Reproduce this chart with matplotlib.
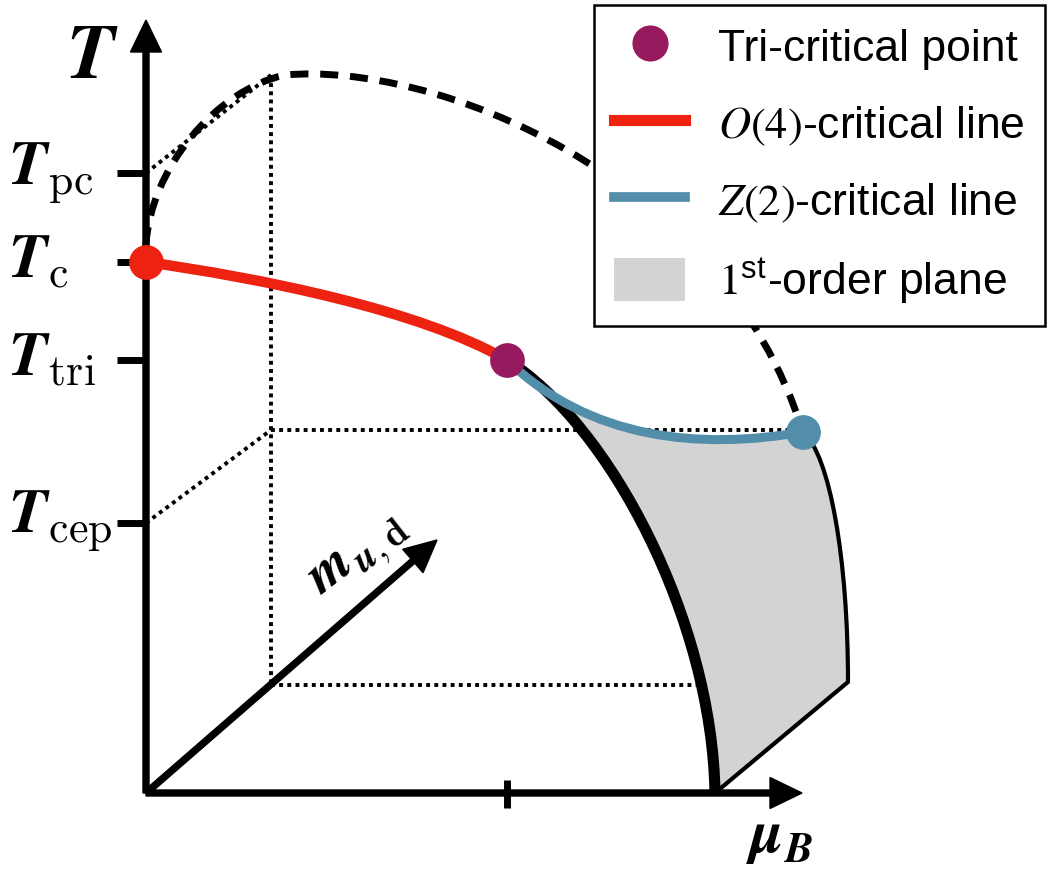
import matplotlib
matplotlib.use("Agg")
import matplotlib.pyplot as plt
from matplotlib.path import Path
from matplotlib.patches import PathPatch, Patch
from matplotlib.lines import Line2D

plt.rcParams['mathtext.fontset'] = 'stix'
plt.rcParams['font.family'] = ['Liberation Sans', 'DejaVu Sans']

# schematic geometry (picture pixels, y downwards)
origin = (146, 793)
t_tip_y = 20
mu_tip_x = 802
m_tip = (437, 540)

t_ticks_y = [173, 262, 360, 523]
t_label_base = [185, 277, 375, 533]
t_tick_labels = [r'$\mathbfit{T}_{\mathrm{pc}}$', r'$\mathbfit{T}_{\mathrm{c}}$',
                 r'$\mathbfit{T}_{\mathrm{tri}}$', r'$\mathbfit{T}_{\mathrm{cep}}$']
mu_tick_x = 507

# cubic bezier control points
o4_x = [146, 260, 420, 507]
o4_y = [262, 278, 310, 360]
z2_x = [507, 590, 700, 803]
z2_y = [360, 440, 450, 432]
first_x = [507, 610, 712, 715]
first_y = [360, 425, 620, 793]
edge_x = [803, 830, 848, 848]
edge_y = [432, 455, 560, 682]
corner = (715, 793)
dash_x = [146, 150, 215, 285, 430, 720, 803]
dash_y = [245, 170, 90, 75, 62, 170, 432]

# dotted helper lines: (x0, y0, x1, y1)
dotted_segs = [(146, 173, 271, 75), (271, 75, 271, 685), (271, 685, 705, 685),
               (146, 523, 271, 430), (271, 430, 803, 430)]

tc_pt = (146, 262)
tri_pt = (507, 360)
z2_pt = (803, 432)

red = '#EE2211'
purple = '#971A5E'
blue = '#528EAA'
grey = '#D3D3D3'


def bez(xs, ys):
    verts = list(zip(xs, ys))
    codes = [Path.MOVETO] + [Path.CURVE4] * (len(verts) - 1)
    return Path(verts, codes)


fig = plt.figure(figsize=(10.5, 8.69), dpi=100)
ax = fig.add_axes([0, 0, 1, 1])
ax.set_xlim(0, 1050)
ax.set_ylim(869, 0)
ax.axis('off')

# dotted lines
for x0, y0, x1, y1 in dotted_segs:
    ax.plot([x0, x1], [y0, y1], color='k', lw=2.8, ls=(0, (1, 1.1)), zorder=1)

# first order plane
verts = list(zip(z2_x, z2_y)) + list(zip(edge_x[1:], edge_y[1:])) + [corner] \
    + list(zip(first_x[::-1][1:], first_y[::-1][1:])) + [(0, 0)]
codes = [Path.MOVETO] + [Path.CURVE4] * 3 + [Path.CURVE4] * 3 + [Path.LINETO] \
    + [Path.CURVE4] * 3 + [Path.CLOSEPOLY]
ax.add_patch(PathPatch(Path(verts, codes), facecolor=grey, edgecolor='none', zorder=2))

# right edge
ax.add_patch(PathPatch(bez(edge_x, edge_y), facecolor='none', edgecolor='k', lw=3, zorder=3))
ax.plot([edge_x[-1], corner[0]], [edge_y[-1], corner[1]], color='k', lw=3,
        solid_capstyle='round', zorder=3)

# dashed crossover line
ax.add_patch(PathPatch(bez(dash_x, dash_y), facecolor='none', edgecolor='k', lw=5,
                       ls=(0, (2.6, 1.7)), zorder=3))

# axes
ax.arrow(origin[0], origin[1], 0, t_tip_y - origin[1], width=6, head_width=31,
         head_length=32, length_includes_head=True, color='k', zorder=4)
ax.arrow(origin[0], origin[1], mu_tip_x - origin[0], 0, width=6, head_width=31,
         head_length=32, length_includes_head=True, color='k', zorder=4)
ax.arrow(origin[0], origin[1], m_tip[0] - origin[0], m_tip[1] - origin[1], width=6,
         head_width=31, head_length=32, length_includes_head=True, color='k', zorder=4)

for y, yb, lab in zip(t_ticks_y, t_label_base, t_tick_labels):
    ax.plot([117, origin[0]], [y, y], color='k', lw=5, solid_capstyle='butt', zorder=4)
    ax.text(8, yb, lab, ha='left', va='baseline', fontsize=45, math_fontfamily='cm')
ax.plot([mu_tick_x, mu_tick_x], [780, 808], color='k', lw=5, solid_capstyle='butt', zorder=4)

ax.text(92, 78, r'$\mathbfit{T}$', ha='center', va='baseline', fontsize=56, math_fontfamily='cm')
ax.text(779, 837, r'$\mathbfit{\mu}_{\mathbfit{B}}$', ha='center', va='center', fontsize=44,
        math_fontfamily='cm')
ax.text(360, 556, r'$\mathbfit{m}_{\mathbfit{u},\mathbf{d}}$', ha='center', va='center',
        fontsize=40, rotation=38, math_fontfamily='cm')

# transition lines
ax.add_patch(PathPatch(bez(first_x, first_y), facecolor='none', edgecolor='k', lw=8, zorder=5))
ax.add_patch(PathPatch(bez(z2_x, z2_y), facecolor='none', edgecolor=blue, lw=6.5, zorder=6))
ax.add_patch(PathPatch(bez(o4_x, o4_y), facecolor='none', edgecolor=red, lw=7.5, zorder=6))

ax.plot(*tc_pt, 'o', color=red, ms=24, zorder=7)
ax.plot(*tri_pt, 'o', color=purple, ms=24, zorder=7)
ax.plot(*z2_pt, 'o', color=blue, ms=24, zorder=7)

handles = [Line2D([], [], marker='o', ls='', color=purple, ms=25),
           Line2D([], [], color=red, lw=8),
           Line2D([], [], color=blue, lw=7),
           Patch(facecolor=grey, edgecolor='none')]
labels = ['Tri-critical point', r'$O(4)$-critical line', r'$Z(2)$-critical line',
          r'$1^{\mathdefault{st}}$-order plane']
leg = ax.legend(handles, labels, loc='upper right',
                bbox_to_anchor=(1045 / 1050, 1 - 5 / 869), bbox_transform=fig.transFigure,
                borderaxespad=0, fontsize=32, frameon=True, fancybox=False,
                framealpha=1, edgecolor='k', handlelength=1.6, handleheight=1.1,
                handletextpad=0.75, labelspacing=0.7, borderpad=0.45)
leg.get_frame().set_linewidth(1.8)
leg.set_zorder(10)

fig.savefig('out.png', dpi=100)
